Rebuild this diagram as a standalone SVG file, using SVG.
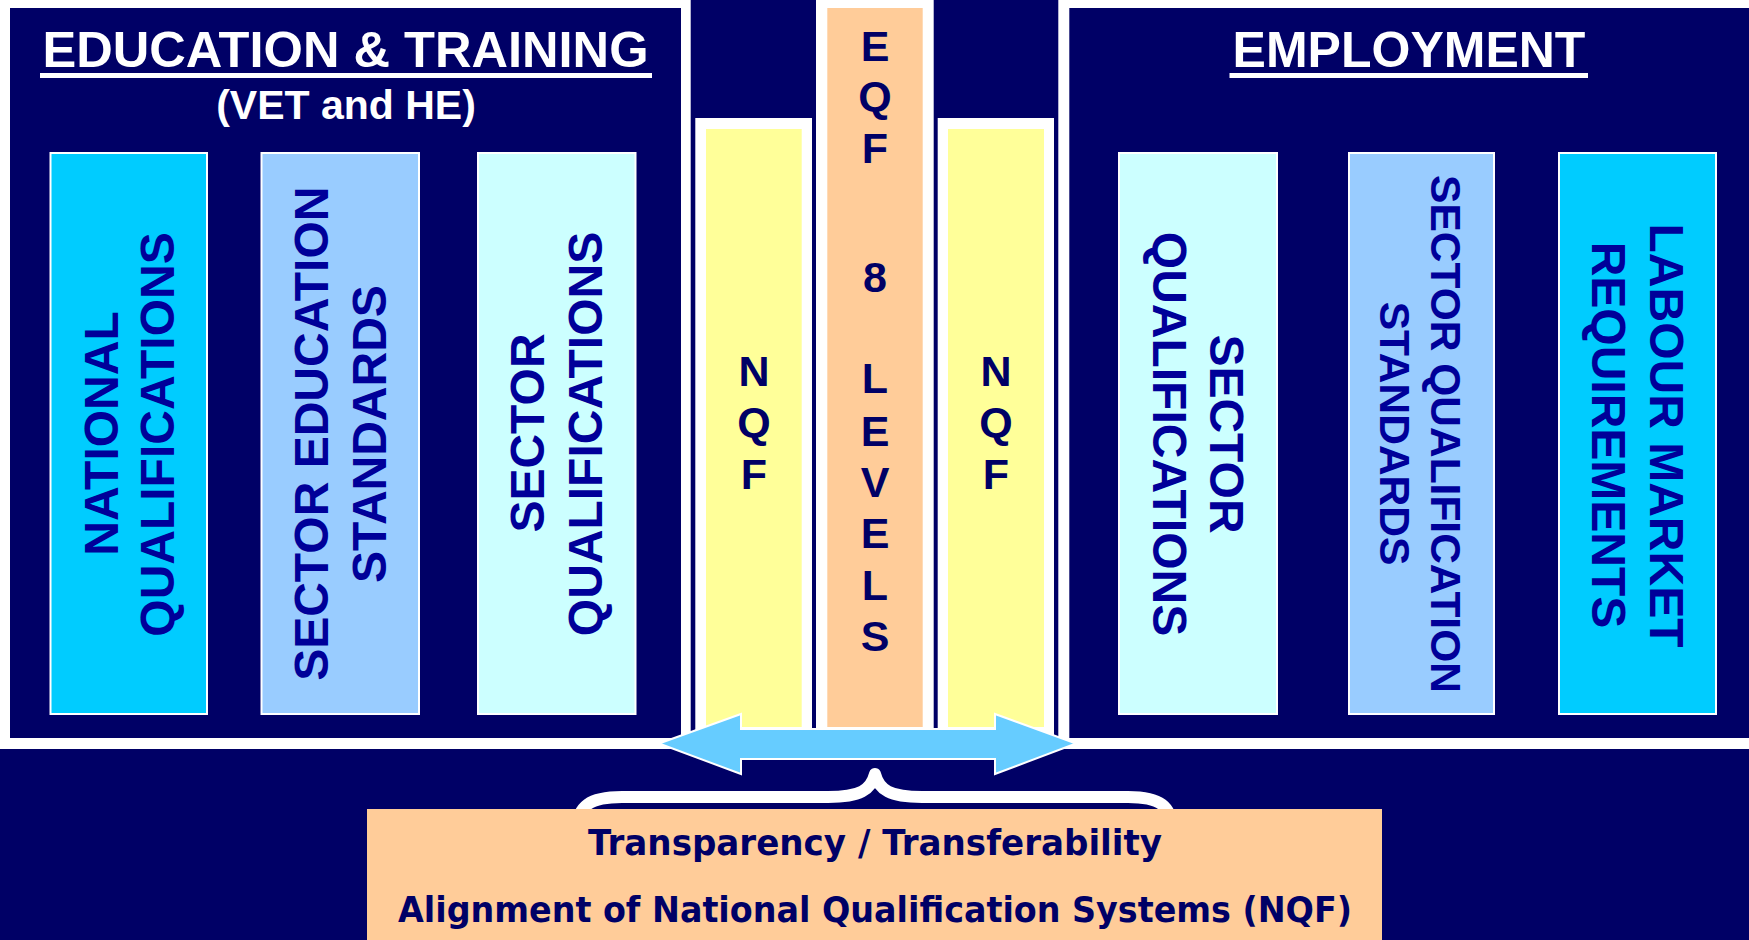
<svg xmlns="http://www.w3.org/2000/svg" width="1749" height="940" viewBox="0 0 1749 940">
<style>
.navy{fill:#000066}
.wht{fill:#ffffff}
.box{stroke:#ffffff;stroke-width:2}
.vt{font-family:"Liberation Sans",Arial,sans-serif;font-weight:bold;font-size:48px;fill:#000099;text-anchor:middle}
.lt{font-family:"Liberation Sans",Arial,sans-serif;font-weight:bold;font-size:43px;fill:#000066;text-anchor:middle}
.title{font-family:"Liberation Sans",Arial,sans-serif;font-weight:bold;fill:#ffffff;text-anchor:middle}
.bt{font-family:"DejaVu Sans","Liberation Sans",sans-serif;font-weight:bold;font-size:36px;fill:#000066;text-anchor:middle}
</style>
<rect x="0" y="0" width="1749" height="940" class="navy"/>
<rect x="0" y="0" width="1749" height="749" class="wht"/>

<g id="education-panel">
<rect x="10" y="8" width="671" height="730" class="navy"/>
<text class="title" x="345.5" y="67" font-size="50" textLength="606" lengthAdjust="spacingAndGlyphs">EDUCATION &amp; TRAINING</text>
<rect x="40" y="73" width="612" height="5" class="wht"/>
<text class="title" x="346" y="119" font-size="41">(VET and HE)</text>
</g>

<g id="national-qualifications">
<rect x="50.5" y="153" width="156.5" height="561" fill="#00ccff" class="box"/>
<text class="vt" transform="translate(117.7,433.5) rotate(-90)">NATIONAL</text>
<text class="vt" transform="translate(174.4,434.5) rotate(-90)">QUALIFICATIONS</text>
</g>

<g id="sector-education-standards">
<rect x="261.5" y="153" width="157.5" height="561" fill="#99ccff" class="box"/>
<text class="vt" transform="translate(328.2,433.7) rotate(-90)">SECTOR EDUCATION</text>
<text class="vt" transform="translate(386.4,434) rotate(-90)">STANDARDS</text>
</g>

<g id="sector-qualifications-left">
<rect x="478" y="153" width="157.5" height="561" fill="#ccffff" class="box"/>
<text class="vt" transform="translate(544.4,433) rotate(-90)">SECTOR</text>
<text class="vt" transform="translate(602.4,434) rotate(-90)">QUALIFICATIONS</text>
</g>

<g id="nqf-left">
<rect x="690.7" y="0" width="125.3" height="738" class="navy"/>
<rect x="695.3" y="118" width="116.7" height="620" class="wht"/>
<rect x="706" y="129" width="95.7" height="598" fill="#ffff99"/>
<text class="lt" x="754" y="386">N</text>
<text class="lt" x="754" y="437">Q</text>
<text class="lt" x="754" y="489">F</text>
</g>

<g id="eqf">
<rect x="827.3" y="8" width="95.4" height="719" fill="#ffcc99"/>
<text class="lt" x="875" y="61">E</text>
<text class="lt" x="875" y="111">Q</text>
<text class="lt" x="875" y="163">F</text>
<text class="lt" x="875" y="292">8</text>
<text class="lt" x="875" y="393">L</text>
<text class="lt" x="875" y="446">E</text>
<text class="lt" x="875" y="497">V</text>
<text class="lt" x="875" y="548">E</text>
<text class="lt" x="875" y="600">L</text>
<text class="lt" x="875" y="651">S</text>
</g>

<g id="nqf-right">
<rect x="933.7" y="0" width="124.6" height="738" class="navy"/>
<rect x="937.7" y="118" width="116.3" height="620" class="wht"/>
<rect x="948" y="129" width="96" height="598" fill="#ffff99"/>
<text class="lt" x="996" y="386">N</text>
<text class="lt" x="996" y="437">Q</text>
<text class="lt" x="996" y="489">F</text>
</g>

<g id="employment-panel">
<rect x="1069.3" y="8" width="679.7" height="730" class="navy"/>
<text class="title" x="1409" y="67" font-size="50">EMPLOYMENT</text>
<rect x="1229.5" y="73" width="358.5" height="5" class="wht"/>
</g>

<g id="sector-qualifications-right">
<rect x="1119" y="153" width="158" height="561" fill="#ccffff" class="box"/>
<text class="vt" transform="translate(1209.6,434) rotate(90)">SECTOR</text>
<text class="vt" transform="translate(1153.3,434) rotate(90)">QUALIFICATIONS</text>
</g>

<g id="sector-qualification-standards">
<rect x="1349" y="153" width="145" height="561" fill="#99ccff" class="box"/>
<text class="vt" font-size="42.5" transform="translate(1431.3,434) rotate(90)" style="font-size:42.5px">SECTOR QUALIFICATION</text>
<text class="vt" transform="translate(1380,433.5) rotate(90)" style="font-size:42.5px">STANDARDS</text>
</g>

<g id="labour-market-requirements">
<rect x="1559" y="153" width="157" height="561" fill="#00ccff" class="box"/>
<text class="vt" transform="translate(1649.8,435.5) rotate(90)">LABOUR MARKET</text>
<text class="vt" transform="translate(1592.3,435) rotate(90)">REQUIREMENTS</text>
</g>

<g id="connectors">
<path d="M577,830 C577,806 590,797 622,797 L828,797 C860,797 871,790 875,774 C879,790 890,797 922,797 L1128,797 C1160,797 1172,806 1172,830" fill="none" stroke="#ffffff" stroke-width="12" stroke-linecap="round" stroke-linejoin="round"/>
<polygon points="659,743.5 741,714 741,729 995,729 995,714 1076,743.5 995,774 995,759 741,759 741,774" fill="#66ccff" stroke="#ffffff" stroke-width="2"/>
</g>

<g id="transparency-box">
<rect x="367" y="809" width="1015" height="131" fill="#ffcc99"/>
<text class="bt" x="875" y="855" textLength="574" lengthAdjust="spacingAndGlyphs">Transparency / Transferability</text>
<text class="bt" x="875" y="922" textLength="954" lengthAdjust="spacingAndGlyphs">Alignment of National Qualification Systems (NQF)</text>
</g>
</svg>
